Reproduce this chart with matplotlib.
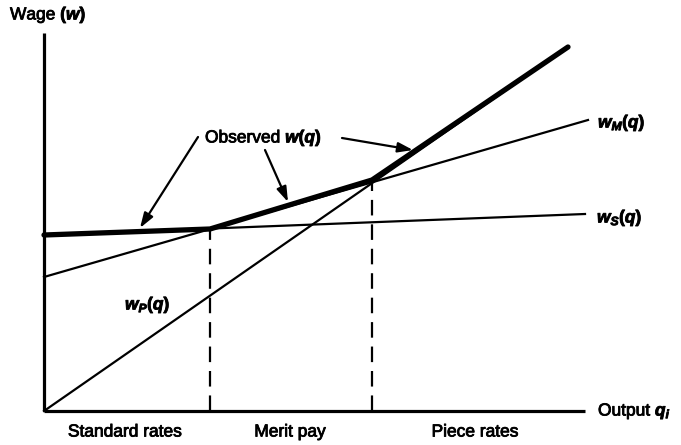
import matplotlib.pyplot as plt
import matplotlib.patheffects as pe

plt.rcParams['font.family'] = ['Liberation Sans', 'DejaVu Sans']
plt.rcParams['mathtext.fontset'] = 'custom'
plt.rcParams['mathtext.it'] = 'Liberation Sans:italic:bold'
plt.rcParams['mathtext.rm'] = 'Liberation Sans:bold'
plt.rcParams['mathtext.bf'] = 'Liberation Sans:bold'

# line end points (output q, wage w)
q_s = [0, 541]
w_s = [176, 197]
q_m = [0, 544]
w_m = [134, 291]
q_p = [0, 524]
w_p = [0, 364]
# observed wage schedule (upper envelope)
q_obs = [0, 166, 328, 524]
w_obs = [176, 182, 231, 364]
# regime boundaries
q_bounds = [166, 328]
w_bounds = [182, 231]

regimes = ['Standard rates', 'Merit pay', 'Piece rates']
regime_q = [81, 246, 431]

fig = plt.figure(figsize=(6.81, 4.45), dpi=100)
ax = fig.add_axes([0, 0, 1, 1])
ax.set_xlim(-44, 637)
ax.set_ylim(-34, 411)
ax.axis('off')

# axes
ax.plot([0, 0], [0, 378], color='black', lw=2.3, solid_capstyle='butt')
ax.plot([0, 541], [0, 0], color='black', lw=2.3, solid_capstyle='butt')

ax.plot(q_s, w_s, color='black', lw=1.6)
ax.plot(q_m, w_m, color='black', lw=1.6)
ax.plot(q_p, w_p, color='black', lw=1.6)
ax.plot(q_obs, w_obs, color='black', lw=3.8, solid_capstyle='round',
        solid_joinstyle='round')

for qb, wb in zip(q_bounds, w_bounds):
    ax.plot([qb, qb], [0, wb], color='black', lw=1.6, dashes=(7, 4))

fs = 12.5
heavy = [pe.withStroke(linewidth=0.6, foreground='black')]
labels = [
    (-34, 396, 'Wage $(w)$'),
    (554, 288, '$w_M(q)$'),
    (553, 193, '$w_S(q)$'),
    (81, 106, '$w_P(q)$'),
    (554, 0, 'Output $q_i$'),
    (161, 273, 'Observed $w(q)$'),
]
for lx, ly, s in labels:
    ax.text(lx, ly, s, fontsize=fs, ha='left', va='center', path_effects=heavy)
for name, qx in zip(regimes, regime_q):
    ax.text(qx, -21, name, fontsize=fs, ha='center', va='center',
            path_effects=heavy)

arrow = dict(arrowstyle='-|>,head_length=0.9,head_width=0.3', color='black',
             lw=1.6, shrinkA=0, shrinkB=0)
ax.annotate('', xy=(96, 183), xytext=(154, 274), arrowprops=arrow)
ax.annotate('', xy=(244, 209), xytext=(221, 261), arrowprops=arrow)
ax.annotate('', xy=(369, 261), xytext=(298, 273), arrowprops=arrow)

fig.savefig('out.png', dpi=100)
